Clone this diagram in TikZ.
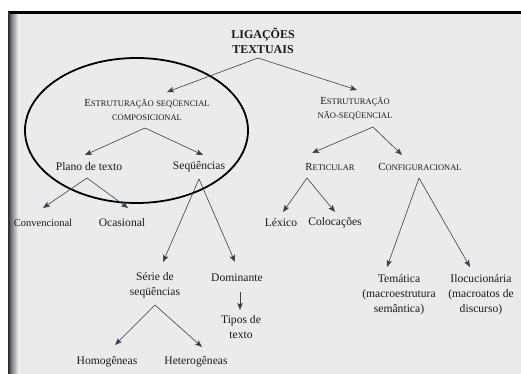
\documentclass[tikz,border=0pt]{standalone}
\usepackage{fontspec}
\setmainfont{Liberation Serif}
\usetikzlibrary{arrows.meta}
\definecolor{paper}{HTML}{EBEBEB}
\definecolor{edge}{HTML}{50545C}
\definecolor{arr}{HTML}{3A4048}
\newcommand{\mysc}[2]{{\fontsize{10.8}{12}\selectfont #1}{\fontsize{8.5}{10}\selectfont #2}}
\tikzset{
  lbl/.style={inner sep=0pt, align=center, font=\fontsize{11.6}{15}\selectfont, text=black!90},
  head/.style={inner sep=0pt, align=center, font=\fontsize{12}{14.5}\selectfont\bfseries, text=black!90},
  scl/.style={inner sep=0pt, align=center, text=black!90},
  link/.style={draw=arr, line width=0.6pt, -{Stealth[length=7pt,width=5.5pt,inset=1.5pt]}},
}
\begin{document}
\begin{tikzpicture}[x=1pt,y=-1pt]
\useasboundingbox (0,0) rectangle (521,374);
% paper
\fill[white] (0,0) rectangle (521,374);
\fill[paper] (9,13) rectangle (521,374);
\shade[left color=edge, right color=paper] (9,13) rectangle (18,374);
\draw[black, line width=2.2pt] (8,12.5) -- (521,12.5);
\draw[black!80, line width=1.2pt] (9,12.5) -- (9,374);
% nodes
\node[head] (lig) at (263,41) {LIGAÇÕES\\TEXTUAIS};
\node[scl] (esq) at (147,110) {\mysc{E}{STRUTURAÇÃO} \mysc{}{SEQÜENCIAL}\\[2pt]\mysc{}{COMPOSICIONAL}};
\node[scl] (enq) at (355,109) {\mysc{E}{STRUTURAÇÃO}\\[2pt]\mysc{}{NÃO-SEQÜENCIAL}};
\node[lbl] (plano) at (89,167) {Plano de texto};
\node[lbl] (seq) at (199,167) {Seqüências};
\node[lbl, font=\fontsize{10.5}{12}\selectfont] (conv) at (43,223) {Convencional};
\node[lbl] (ocas) at (122,223) {Ocasional};
\node[lbl] (serie) at (155,285) {Série de\\seqüências};
\node[lbl] (dom) at (237,278) {Dominante};
\node[lbl] (tipos) at (241,327) {Tipos de\\texto};
\node[lbl] (homo) at (107,362) {Homogêneas};
\node[lbl] (hete) at (196,362) {Heterogêneas};
\node[scl] (ret) at (330,167) {\mysc{R}{ETICULAR}};
\node[scl] (conf) at (420,167) {\mysc{C}{ONFIGURACIONAL}};
\node[lbl] (lex) at (281,223) {Léxico};
\node[lbl] (col) at (335,223) {Colocações};
\node[lbl] (tem) at (399,295) {Temática\\(macroestrutura\\semântica)};
\node[lbl] (ilo) at (481,295) {Ilocucionária\\(macroatos de\\discurso)};
% ellipse
\draw[black, line width=1.8pt] (136.5,130.5) ellipse [x radius=111.5, y radius=72.5];
% connector end points
\coordinate (aLig) at (258,58);
\coordinate (tEsq) at (167,92);
\coordinate (tEnq) at (357,90);
\coordinate (aEsq) at (145,128);
\coordinate (tPlano) at (85,155);
\coordinate (tSeq) at (203,155);
\coordinate (aEnq) at (373,127);
\coordinate (tRet) at (312,153);
\coordinate (tConf) at (402,155);
\coordinate (aPlano) at (87,178);
\coordinate (tConv) at (43,208);
\coordinate (tOcas) at (128,208);
\coordinate (aSeq) at (199,179);
\coordinate (tSerie) at (163,262);
\coordinate (tDom) at (235,262);
\coordinate (aDom) at (240,292);
\coordinate (tTipos) at (240,310);
\coordinate (aSerie) at (155,305);
\coordinate (tHomo) at (115,345);
\coordinate (tHete) at (202,347);
\coordinate (aRet) at (307,178);
\coordinate (tLex) at (283,212);
\coordinate (tCol) at (335,212);
\coordinate (aConf) at (419,178);
\coordinate (tTem) at (387,267);
\coordinate (tIlo) at (470,267);
% connectors
\draw[link] (aLig) -- (tEsq);
\draw[link] (aLig) -- (tEnq);
\draw[link] (aEsq) -- (tPlano);
\draw[link] (aEsq) -- (tSeq);
\draw[link] (aEnq) -- (tRet);
\draw[link] (aEnq) -- (tConf);
\draw[link] (aPlano) -- (tConv);
\draw[link] (aPlano) -- (tOcas);
\draw[link] (aSeq) -- (tSerie);
\draw[link] (aSeq) -- (tDom);
\draw[link] (aDom) -- (tTipos);
\draw[link] (aSerie) -- (tHomo);
\draw[link] (aSerie) -- (tHete);
\draw[link] (aRet) -- (tLex);
\draw[link] (aRet) -- (tCol);
\draw[link] (aConf) -- (tTem);
\draw[link] (aConf) -- (tIlo);
\end{tikzpicture}
\end{document}
